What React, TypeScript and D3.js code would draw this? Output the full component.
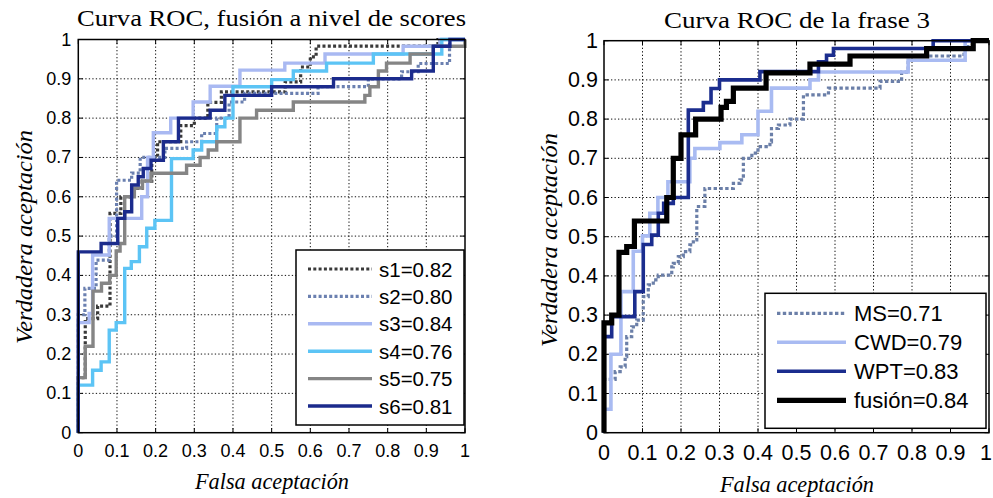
import React from "react";
import * as d3 from "d3";

const W = 993;
const H = 498;

const tickValues = [0, 0.1, 0.2, 0.3, 0.4, 0.5, 0.6, 0.7, 0.8, 0.9, 1];
const tickLabels = ["0", "0.1", "0.2", "0.3", "0.4", "0.5", "0.6", "0.7", "0.8", "0.9", "1"];

// Fusión a nivel de scores: ROC corner points (fpr, tpr)
const s1Fpr = [0, 0, 0.018, 0.05, 0.082, 0.11, 0.14, 0.165, 0.19, 0.205, 0.265, 0.3, 0.335, 0.37, 0.535, 0.575, 0.6, 0.615, 0.93, 1];
const s1Tpr = [0, 0.14, 0.29, 0.322, 0.558, 0.6, 0.621, 0.64, 0.7, 0.74, 0.781, 0.8, 0.84, 0.867, 0.892, 0.93, 0.956, 0.983, 1, 1];
const s2Fpr = [0, 0, 0.017, 0.046, 0.08, 0.099, 0.138, 0.16, 0.224, 0.28, 0.319, 0.358, 0.39, 0.43, 0.62, 0.75, 0.836, 0.879, 0.96, 1];
const s2Tpr = [0, 0.3, 0.367, 0.439, 0.5, 0.642, 0.66, 0.7, 0.723, 0.74, 0.761, 0.8, 0.841, 0.863, 0.88, 0.9, 0.918, 0.939, 1, 1];
const s3Fpr = [0, 0, 0.028, 0.037, 0.08, 0.164, 0.179, 0.194, 0.239, 0.297, 0.341, 0.418, 0.534, 0.638, 0.84, 0.935, 1];
const s3Tpr = [0, 0.28, 0.303, 0.452, 0.545, 0.6, 0.7, 0.763, 0.8, 0.841, 0.881, 0.922, 0.94, 0.963, 0.983, 1, 1];
const s4Fpr = [0, 0, 0.037, 0.059, 0.08, 0.098, 0.12, 0.137, 0.158, 0.177, 0.198, 0.241, 0.297, 0.319, 0.358, 0.379, 0.4, 0.5, 0.556, 0.642, 0.763, 0.94, 1];
const s4Tpr = [0, 0.121, 0.159, 0.18, 0.261, 0.28, 0.418, 0.435, 0.473, 0.52, 0.54, 0.697, 0.719, 0.74, 0.778, 0.8, 0.88, 0.898, 0.92, 0.94, 0.963, 1, 1];
const s5Fpr = [0, 0, 0.018, 0.038, 0.06, 0.081, 0.098, 0.108, 0.12, 0.145, 0.166, 0.188, 0.28, 0.315, 0.336, 0.358, 0.418, 0.461, 0.556, 0.741, 0.754, 0.776, 0.797, 0.858, 0.918, 1];
const s5Tpr = [0, 0.14, 0.22, 0.36, 0.38, 0.4, 0.462, 0.481, 0.6, 0.622, 0.64, 0.66, 0.68, 0.7, 0.719, 0.74, 0.8, 0.82, 0.841, 0.858, 0.88, 0.92, 0.94, 0.963, 0.983, 1];
const s6Fpr = [0, 0, 0.059, 0.102, 0.12, 0.138, 0.155, 0.168, 0.188, 0.22, 0.259, 0.341, 0.379, 0.5, 0.66, 0.862, 0.918, 0.961, 1];
const s6Tpr = [0, 0.46, 0.481, 0.545, 0.562, 0.63, 0.651, 0.672, 0.693, 0.74, 0.8, 0.82, 0.858, 0.88, 0.9, 0.92, 0.983, 1, 1];
const leftNames = ["s1=0.82", "s2=0.80", "s3=0.84", "s4=0.76", "s5=0.75", "s6=0.81"];

// Frase 3: ROC corner points (fpr, tpr)
const msFpr = [0, 0, 0.029, 0.042, 0.055, 0.059, 0.072, 0.085, 0.102, 0.115, 0.128, 0.141, 0.176, 0.18, 0.193, 0.206, 0.223, 0.232, 0.241, 0.262, 0.336, 0.353, 0.362, 0.384, 0.4, 0.431, 0.435, 0.453, 0.483, 0.518, 0.583, 0.717, 0.773, 0.79, 0.935, 0.96, 1];
const msTpr = [0, 0.136, 0.156, 0.168, 0.194, 0.245, 0.27, 0.287, 0.347, 0.377, 0.39, 0.402, 0.423, 0.432, 0.449, 0.462, 0.479, 0.492, 0.577, 0.623, 0.636, 0.645, 0.7, 0.713, 0.73, 0.742, 0.776, 0.785, 0.8, 0.862, 0.879, 0.896, 0.92, 0.961, 0.985, 1, 1];
const cwdFpr = [0, 0, 0.018, 0.044, 0.076, 0.1, 0.119, 0.14, 0.166, 0.223, 0.236, 0.301, 0.358, 0.4, 0.435, 0.535, 0.557, 0.79, 0.938, 1];
const cwdTpr = [0, 0.06, 0.2, 0.36, 0.463, 0.502, 0.56, 0.6, 0.64, 0.7, 0.725, 0.74, 0.76, 0.82, 0.879, 0.9, 0.92, 0.95, 1, 1];
const wptFpr = [0, 0, 0.02, 0.08, 0.102, 0.124, 0.141, 0.155, 0.18, 0.219, 0.258, 0.278, 0.3, 0.405, 0.557, 0.578, 0.596, 0.855, 1];
const wptTpr = [0, 0.245, 0.296, 0.36, 0.48, 0.504, 0.56, 0.585, 0.6, 0.823, 0.842, 0.878, 0.9, 0.921, 0.946, 0.963, 0.98, 1, 1];
const fusFpr = [0, 0, 0.02, 0.039, 0.059, 0.079, 0.163, 0.18, 0.2, 0.238, 0.304, 0.318, 0.336, 0.421, 0.535, 0.639, 0.838, 0.959, 1];
const fusTpr = [0, 0.28, 0.3, 0.46, 0.475, 0.54, 0.6, 0.7, 0.76, 0.8, 0.83, 0.845, 0.879, 0.918, 0.94, 0.961, 0.98, 1, 1];
const rightNames = ["MS=0.71", "CWD=0.79", "WPT=0.83", "fusión=0.84"];

type Series = { fpr: number[]; tpr: number[]; color: string; width: number; dash?: string };

type PanelProps = {
  left: number; right: number; top: number; bottom: number;
  series: Series[];
  names: string[];
  title: string; titleX: number; titleY: number; titleLen: number;
  xlabX: number; xlabY: number;
  ylabX: number; ylabY: number;
  tickFont: number; tickGap: number; xTickY: number;
  legend: { x: number; y: number; w: number; h: number; row0: number; step: number; l0: number; l1: number; tx: number; font: number };
};

const SANS = "'Liberation Sans', Arial, sans-serif";
const SERIF = "'Liberation Serif', 'Times New Roman', serif";

function Panel(p: PanelProps) {
  const x = d3.scaleLinear().domain([0, 1]).range([p.left, p.right]);
  const y = d3.scaleLinear().domain([0, 1]).range([p.bottom, p.top]);
  const line = d3
    .line<[number, number]>()
    .x((d) => x(d[0]))
    .y((d) => y(d[1]))
    .curve(d3.curveStepAfter);
  const tk = 4.5;
  return (
    <g>
      <rect x={p.left} y={p.top} width={p.right - p.left} height={p.bottom - p.top} fill="#fff" />
      {tickValues.slice(1, -1).map((v) => (
        <g key={"g" + v}>
          <line x1={x(v)} x2={x(v)} y1={p.top} y2={p.bottom} stroke="#111" strokeWidth={1} strokeDasharray="1.3 2.2" />
          <line x1={p.left} x2={p.right} y1={y(v)} y2={y(v)} stroke="#111" strokeWidth={1} strokeDasharray="1.3 2.2" />
        </g>
      ))}
      {tickValues.map((v) => (
        <g key={"t" + v} stroke="#000" strokeWidth={1}>
          <line x1={x(v)} x2={x(v)} y1={p.bottom} y2={p.bottom - tk} />
          <line x1={x(v)} x2={x(v)} y1={p.top} y2={p.top + tk} />
          <line x1={p.left} x2={p.left + tk} y1={y(v)} y2={y(v)} />
          <line x1={p.right} x2={p.right - tk} y1={y(v)} y2={y(v)} />
        </g>
      ))}
      {p.series.map((s, i) => (
        <path
          key={"s" + i}
          d={line(s.fpr.map((f, j) => [f, s.tpr[j]] as [number, number])) || ""}
          fill="none"
          stroke={s.color}
          strokeWidth={s.width}
          strokeDasharray={s.dash}
          strokeLinejoin="miter"
        />
      ))}
      <rect x={p.left} y={p.top} width={p.right - p.left} height={p.bottom - p.top} fill="none" stroke="#000" strokeWidth={1.5} />
      {tickValues.map((v, i) => (
        <g key={"l" + v} fontFamily={SANS} fontSize={p.tickFont} fill="#000">
          <text x={Math.min(x(v), W - 7)} y={p.xTickY} textAnchor="middle">{tickLabels[i]}</text>
          <text x={p.left - p.tickGap} y={y(v)} textAnchor="end" dominantBaseline="central">{tickLabels[i]}</text>
        </g>
      ))}
      <g>
        <rect x={p.legend.x} y={p.legend.y} width={p.legend.w} height={p.legend.h} fill="#fff" stroke="#000" strokeWidth={1.5} />
        {p.series.map((s, i) => {
          const yy = p.legend.row0 + i * p.legend.step;
          return (
            <g key={"lg" + i}>
              <line x1={p.legend.l0} x2={p.legend.l1} y1={yy} y2={yy} stroke={s.color} strokeWidth={s.width} strokeDasharray={s.dash} />
              <text x={p.legend.tx} y={yy} dominantBaseline="central" fontFamily={SANS} fontSize={p.legend.font} fill="#000">
                {p.names[i]}
              </text>
            </g>
          );
        })}
      </g>
      <text x={p.titleX} y={p.titleY} textAnchor="middle" fontFamily={SERIF} fontSize={24} textLength={p.titleLen} lengthAdjust="spacingAndGlyphs" fill="#000">
        {p.title}
      </text>
      <text x={p.xlabX} y={p.xlabY} textAnchor="middle" fontFamily={SERIF} fontStyle="italic" fontSize={23} textLength={154} lengthAdjust="spacingAndGlyphs" fill="#000">
        Falsa aceptación
      </text>
      <text
        transform={`translate(${p.ylabX},${p.ylabY}) rotate(-90)`}
        textAnchor="middle"
        fontFamily={SERIF}
        fontStyle="italic"
        fontSize={23}
        textLength={214}
        lengthAdjust="spacingAndGlyphs"
        fill="#000"
      >
        Verdadera aceptación
      </text>
    </g>
  );
}

export default function App() {
  const leftSeries: Series[] = [
    { fpr: s1Fpr, tpr: s1Tpr, color: "#3a3a3a", width: 3.2, dash: "3 2.3" },
    { fpr: s2Fpr, tpr: s2Tpr, color: "#6b80b0", width: 3.2, dash: "3 2.3" },
    { fpr: s3Fpr, tpr: s3Tpr, color: "#a9b9f2", width: 3.4 },
    { fpr: s4Fpr, tpr: s4Tpr, color: "#5cc4f5", width: 3.4 },
    { fpr: s5Fpr, tpr: s5Tpr, color: "#858585", width: 3.4 },
    { fpr: s6Fpr, tpr: s6Tpr, color: "#1b2b8c", width: 3.4 },
  ];
  const rightSeries: Series[] = [
    { fpr: msFpr, tpr: msTpr, color: "#6b7fa8", width: 3.2, dash: "3.4 2.4" },
    { fpr: cwdFpr, tpr: cwdTpr, color: "#a9bbf2", width: 3.6 },
    { fpr: wptFpr, tpr: wptTpr, color: "#1b2d8e", width: 3.6 },
    { fpr: fusFpr, tpr: fusTpr, color: "#000000", width: 5.2 },
  ];
  return (
    <svg width={W} height={H} viewBox={`0 0 ${W} ${H}`} style={{ display: "block", position: "absolute", left: 0, top: 0, background: "#fff" }}>
      <rect width={W} height={H} fill="#fff" />
      <Panel
        left={78.3} right={465} top={39.5} bottom={432.7}
        series={leftSeries} names={leftNames}
        title="Curva ROC, fusión a nivel de scores" titleX={271.5} titleY={26} titleLen={389}
        xlabX={272} xlabY={489}
        ylabX={32} ylabY={237}
        tickFont={18} tickGap={7} xTickY={457}
        legend={{ x: 296, y: 250, w: 168, h: 175, row0: 269, step: 27.4, l0: 308, l1: 372, tx: 379, font: 20.5 }}
      />
      <Panel
        left={604} right={989} top={40.7} bottom={432.7}
        series={rightSeries} names={rightNames}
        title="Curva ROC de la frase 3" titleX={797} titleY={28} titleLen={266}
        xlabX={797} xlabY={492}
        ylabX={557} ylabY={240}
        tickFont={21.5} tickGap={6} xTickY={460}
        legend={{ x: 765, y: 293.3, w: 221, h: 135, row0: 313.3, step: 29, l0: 777, l1: 846, tx: 854, font: 22 }}
      />
    </svg>
  );
}
